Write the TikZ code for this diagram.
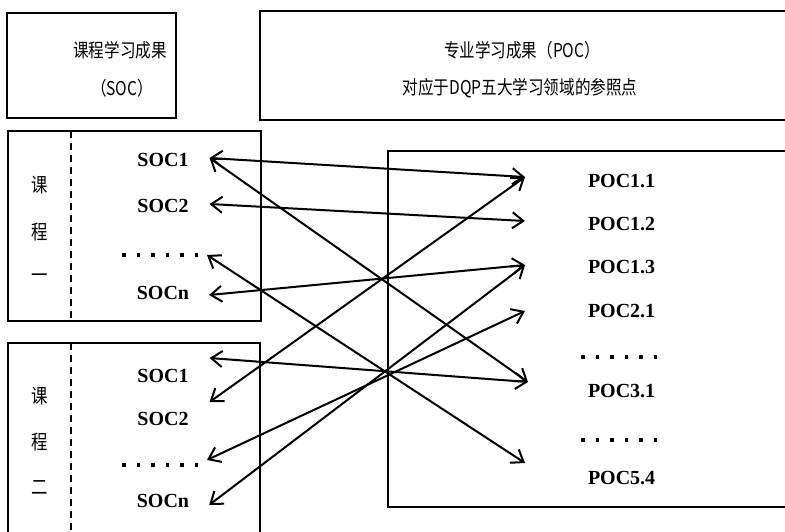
\documentclass[tikz,border=0pt]{standalone}
\usepackage{fontspec}
\setmainfont{Liberation Serif}
\newfontfamily\cjk[FakeStretch=0.82]{Noto Sans CJK SC}
\usetikzlibrary{arrows.meta}
\newcommand{\dotrow}{\rule{3.5pt}{3.5pt}\hspace{11pt}\rule{3.5pt}{3.5pt}\hspace{11pt}\rule{3.5pt}{3.5pt}\hspace{11pt}\rule{3.5pt}{3.5pt}\hspace{11pt}\rule{3.5pt}{3.5pt}\hspace{11pt}\rule{3.5pt}{3.5pt}}

\begin{document}
\begin{tikzpicture}[x=1pt,y=-1pt,line width=2pt,
  lbl/.style={font=\bfseries\fontsize{20}{20}\selectfont,inner sep=0pt},
  zh/.style={font=\cjk\fontsize{19}{19}\selectfont,inner sep=0pt},
  course/.style={font=\cjk\fontsize{20}{20}\selectfont,inner sep=0pt},
  link/.style={{Straight Barb[length=11pt,width=16pt]}-{Straight Barb[length=11pt,width=16pt]}}]
\useasboundingbox (0,0) rectangle (785,531);

% header boxes
\draw (7,13) rectangle (176,118);
\node[zh] (soctitle) at (120,50) {课程学习成果};
\node[zh] (socabbr) at (122,88) {（SOC）};
\draw (260,11) rectangle (800,120);
\node[zh] (poctitle) at (522,50) {专业学习成果（POC）};
\node[zh] (pocsub) at (520,88) {对应于DQP五大学习领域的参照点};

% course boxes
\draw (8,131) rectangle (261,321);
\draw[dash pattern=on 7pt off 5pt] (71,131) -- (71,321);
\node[course] (ca1) at (40,185) {课};
\node[course] (ca2) at (40,232) {程};
\node[course] (ca3) at (40,278) {一};
\node[lbl] (soc1a) at (163,160) {SOC1};
\node[lbl] (soc2a) at (163,206) {SOC2};
\node[lbl] (dotsa) at (160,255) {\dotrow};
\node[lbl] (socna) at (163,293) {SOCn};

\draw (8,343) rectangle (260,545);
\draw[dash pattern=on 7pt off 5pt] (71,343) -- (71,545);
\node[course] (cb1) at (40,396) {课};
\node[course] (cb2) at (40,442) {程};
\node[course] (cb3) at (40,488) {二};
\node[lbl] (soc1b) at (163,376) {SOC1};
\node[lbl] (soc2b) at (163,419) {SOC2};
\node[lbl] (dotsb) at (160,465) {\dotrow};
\node[lbl] (socnb) at (163,501) {SOCn};

% programme box
\draw (388,151) rectangle (800,507);
\node[lbl,anchor=west] (p11) at (587,181) {POC1.1};
\node[lbl,anchor=west] (p12) at (587,224) {POC1.2};
\node[lbl,anchor=west] (p13) at (587,267) {POC1.3};
\node[lbl,anchor=west] (p21) at (587,311) {POC2.1};
\node[lbl,anchor=west] (pdots1) at (580,357) {\dotrow};
\node[lbl,anchor=west] (p31) at (587,391) {POC3.1};
\node[lbl,anchor=west] (pdots2) at (580,440) {\dotrow};
\node[lbl,anchor=west] (p54) at (587,478) {POC5.4};

% mappings
\draw[link] ([shift={(20pt,2pt)}]soc1a.east) -- ([shift={(-62pt,4pt)}]p11.west);
\draw[link] ([shift={(20pt,2pt)}]soc1a.east) -- ([shift={(-59pt,9pt)}]p31.west);
\draw[link] ([shift={(20pt,2pt)}]soc2a.east) -- ([shift={(-62pt,3pt)}]p12.west);
\draw[link] ([shift={(8pt,0pt)}]dotsa.east) -- ([shift={(-62pt,15pt)}]p54.west);
\draw[link] ([shift={(19pt,-2pt)}]socna.east) -- ([shift={(-62pt,2pt)}]p13.west);
\draw[link] ([shift={(20pt,18pt)}]soc1b.east) -- ([shift={(-59pt,9pt)}]p31.west);
\draw[link] ([shift={(20pt,17pt)}]soc2b.east) -- ([shift={(-62pt,4pt)}]p11.west);
\draw[link] ([shift={(8pt,5pt)}]dotsb.east) -- ([shift={(-62pt,0pt)}]p21.west);
\draw[link] ([shift={(19pt,-4pt)}]socnb.east) -- ([shift={(-62pt,2pt)}]p13.west);

\end{tikzpicture}
\end{document}
